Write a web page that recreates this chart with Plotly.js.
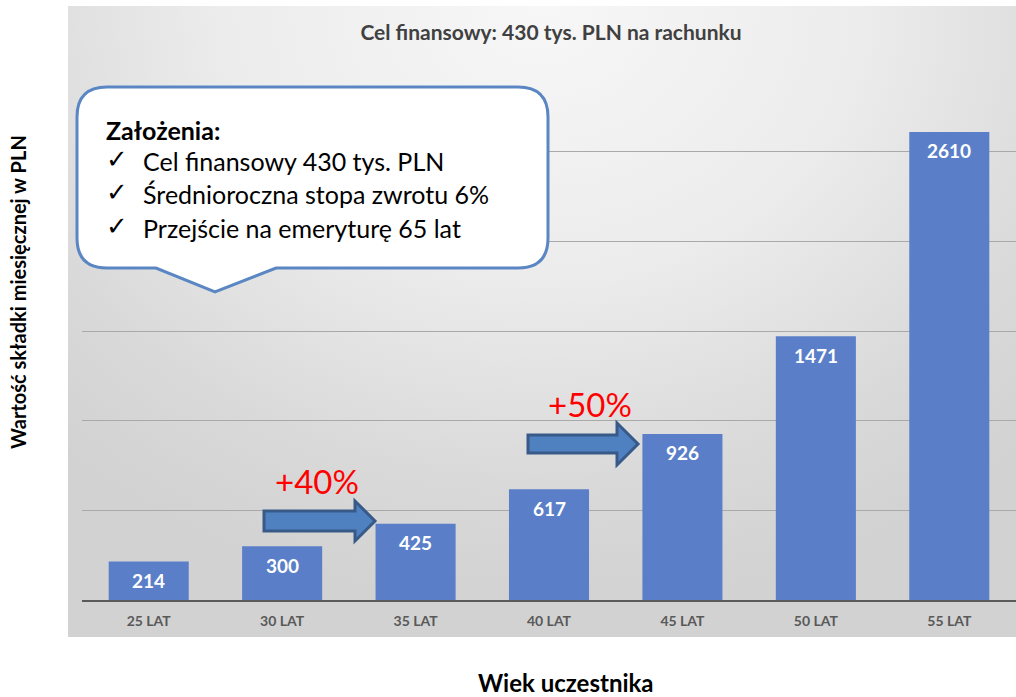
<!DOCTYPE html>
<html><head><meta charset="utf-8">
<script src="https://cdn.plot.ly/plotly-3.0.1.min.js"></script>
<style>
html,body{margin:0;padding:0;background:#fff;}
#wrap{position:relative;width:1016px;height:697px;}
#bg{position:absolute;left:68px;top:6px;width:948px;height:631px;
 background:radial-gradient(ellipse 75% 95% at 50% 0%, #f7f7f7 0%, #ececec 45%, #d9d9d9 80%, #d2d2d2 100%);}
#chart{position:absolute;left:0;top:0;width:1016px;height:697px;}
</style></head>
<body><div id="wrap"><div id="bg"></div><div id="chart"></div></div>
<script>
const categories = ["25 LAT","30 LAT","35 LAT","40 LAT","45 LAT","50 LAT","55 LAT"];
const values = [214, 300, 425, 617, 926, 1471, 2610];
const titleText = "Cel finansowy: 430 tys. PLN na rachunku";
const yTitle = "Wartość składki miesięcznej w PLN";
const xTitle = "Wiek uczestnika";
const calloutHead = "Założenia:";
const calloutLines = ["Cel finansowy 430 tys. PLN","Średnioroczna stopa zwrotu 6%","Przejście na emeryturę 65 lat"];
const growthLabels = ["+40%","+50%"];

const W=1016,H=697,ML=82,MR=0,MT=62,MB=97;
const PW=W-ML-MR, PH=H-MT-MB;
const px = x => (x-ML)/PW;
const py = y => (H-MB-y)/PH;
const F = "Lato, 'Open Sans', sans-serif";

function callout(L,R,T,B,r,p1,tipx,tipy,p2){
  const P=(x,y)=>px(x)+','+py(y);
  return 'M'+P(L+r,T)+' L'+P(R-r,T)+' Q'+P(R,T)+' '+P(R,T+r)+' L'+P(R,B-r)+' Q'+P(R,B)+' '+P(R-r,B)+
    ' L'+P(p2,B)+' L'+P(tipx,tipy)+' L'+P(p1,B)+' L'+P(L+r,B)+' Q'+P(L,B)+' '+P(L,B-r)+' L'+P(L,T+r)+' Q'+P(L,T)+' '+P(L+r,T)+' Z';
}
function arrow(x0,xb,xt,yc,bh,hh){
  const P=(x,y)=>px(x)+','+py(y);
  return 'M'+P(x0,yc-bh)+' L'+P(xb,yc-bh)+' L'+P(xb,yc-hh)+' L'+P(xt,yc)+' L'+P(xb,yc+hh)+' L'+P(xb,yc+bh)+' L'+P(x0,yc+bh)+' Z';
}

const shapes = [
  {type:'path', xref:'paper', yref:'paper', layer:'above',
   path: callout(77,548,87,268,30,156,215,292,276),
   fillcolor:'#ffffff', line:{color:'#5a87c3', width:3}},
  {type:'path', xref:'paper', yref:'paper', layer:'above',
   path: arrow(264,355,375,521,10,20), fillcolor:'#4f80c0', line:{color:'#385a88', width:3}},
  {type:'path', xref:'paper', yref:'paper', layer:'above',
   path: arrow(528,617,638,444,9,21), fillcolor:'#4f80c0', line:{color:'#385a88', width:3}}
];

const annotations = [];
categories.forEach((c,i)=>{
  annotations.push({x:c, y:values[i], xref:'x', yref:'y', text:'<b>'+values[i]+'</b>', showarrow:false,
    yanchor:'middle', yshift:-19, font:{family:F, size:19, color:'#ffffff'}});
});
annotations.push({xref:'paper', yref:'paper', x:px(104), y:py(130), xanchor:'left', yanchor:'middle',
  text:'<b>'+calloutHead+'</b>', showarrow:false, font:{family:F, size:25, color:'#000000'}});
const lineYs=[161,194,228];
calloutLines.forEach((t,i)=>{
  annotations.push({xref:'paper', yref:'paper', x:px(104), y:py(lineYs[i]-2), xanchor:'left', yanchor:'middle',
    text:'✓', showarrow:false, font:{family:"'DejaVu Sans', sans-serif", size:26, color:'#000000'}});
  annotations.push({xref:'paper', yref:'paper', x:px(141), y:py(lineYs[i]), xanchor:'left', yanchor:'middle',
    text:t, showarrow:false, font:{family:F, size:25, color:'#000000'}});
});
annotations.push({xref:'paper', yref:'paper', x:px(317), y:py(481), xanchor:'center', yanchor:'middle',
  text:growthLabels[0], showarrow:false, font:{family:F, size:33, color:'#ff0000'}});
annotations.push({xref:'paper', yref:'paper', x:px(590), y:py(404), xanchor:'center', yanchor:'middle',
  text:growthLabels[1], showarrow:false, font:{family:F, size:33, color:'#ff0000'}});
annotations.push({xref:'paper', yref:'paper', x:px(18), y:py(292), xanchor:'center', yanchor:'middle', textangle:-90,
  text:'<b>'+yTitle+'</b>', showarrow:false, font:{family:F, size:20, color:'#000000'}});
annotations.push({xref:'paper', yref:'paper', x:px(566), y:py(683), xanchor:'center', yanchor:'middle',
  text:'<b>'+xTitle+'</b>', showarrow:false, font:{family:F, size:24, color:'#000000'}});

const trace = {type:'bar', x:categories, y:values, marker:{color:'#5a7fc8'}, hoverinfo:'x+y'};

const layout = {
  width:W, height:H, margin:{l:ML,r:MR,t:MT,b:MB,pad:0},
  paper_bgcolor:'rgba(0,0,0,0)', plot_bgcolor:'rgba(0,0,0,0)',
  title:{text:'<b>'+titleText+'</b>', x:px(551), xref:'paper', xanchor:'center', y:1-33/H, yref:'container', yanchor:'middle',
    font:{family:F, size:21, color:'#404040'}},
  bargap:0.4, showlegend:false,
  xaxis:{showline:true, linecolor:'#5a5a5a', linewidth:2, ticks:'', showgrid:false,
    tickfont:{family:F, size:14, color:'#595959', weight:'bold'}, ticklabelstandoff:7},
  yaxis:{range:[0,3000], dtick:500, showticklabels:false, showgrid:true, gridcolor:'#a9a9a9', gridwidth:1, zeroline:false},
  shapes:shapes, annotations:annotations
};
Plotly.newPlot('chart',[trace],layout,{displayModeBar:false, staticPlot:true});
</script></body></html>
